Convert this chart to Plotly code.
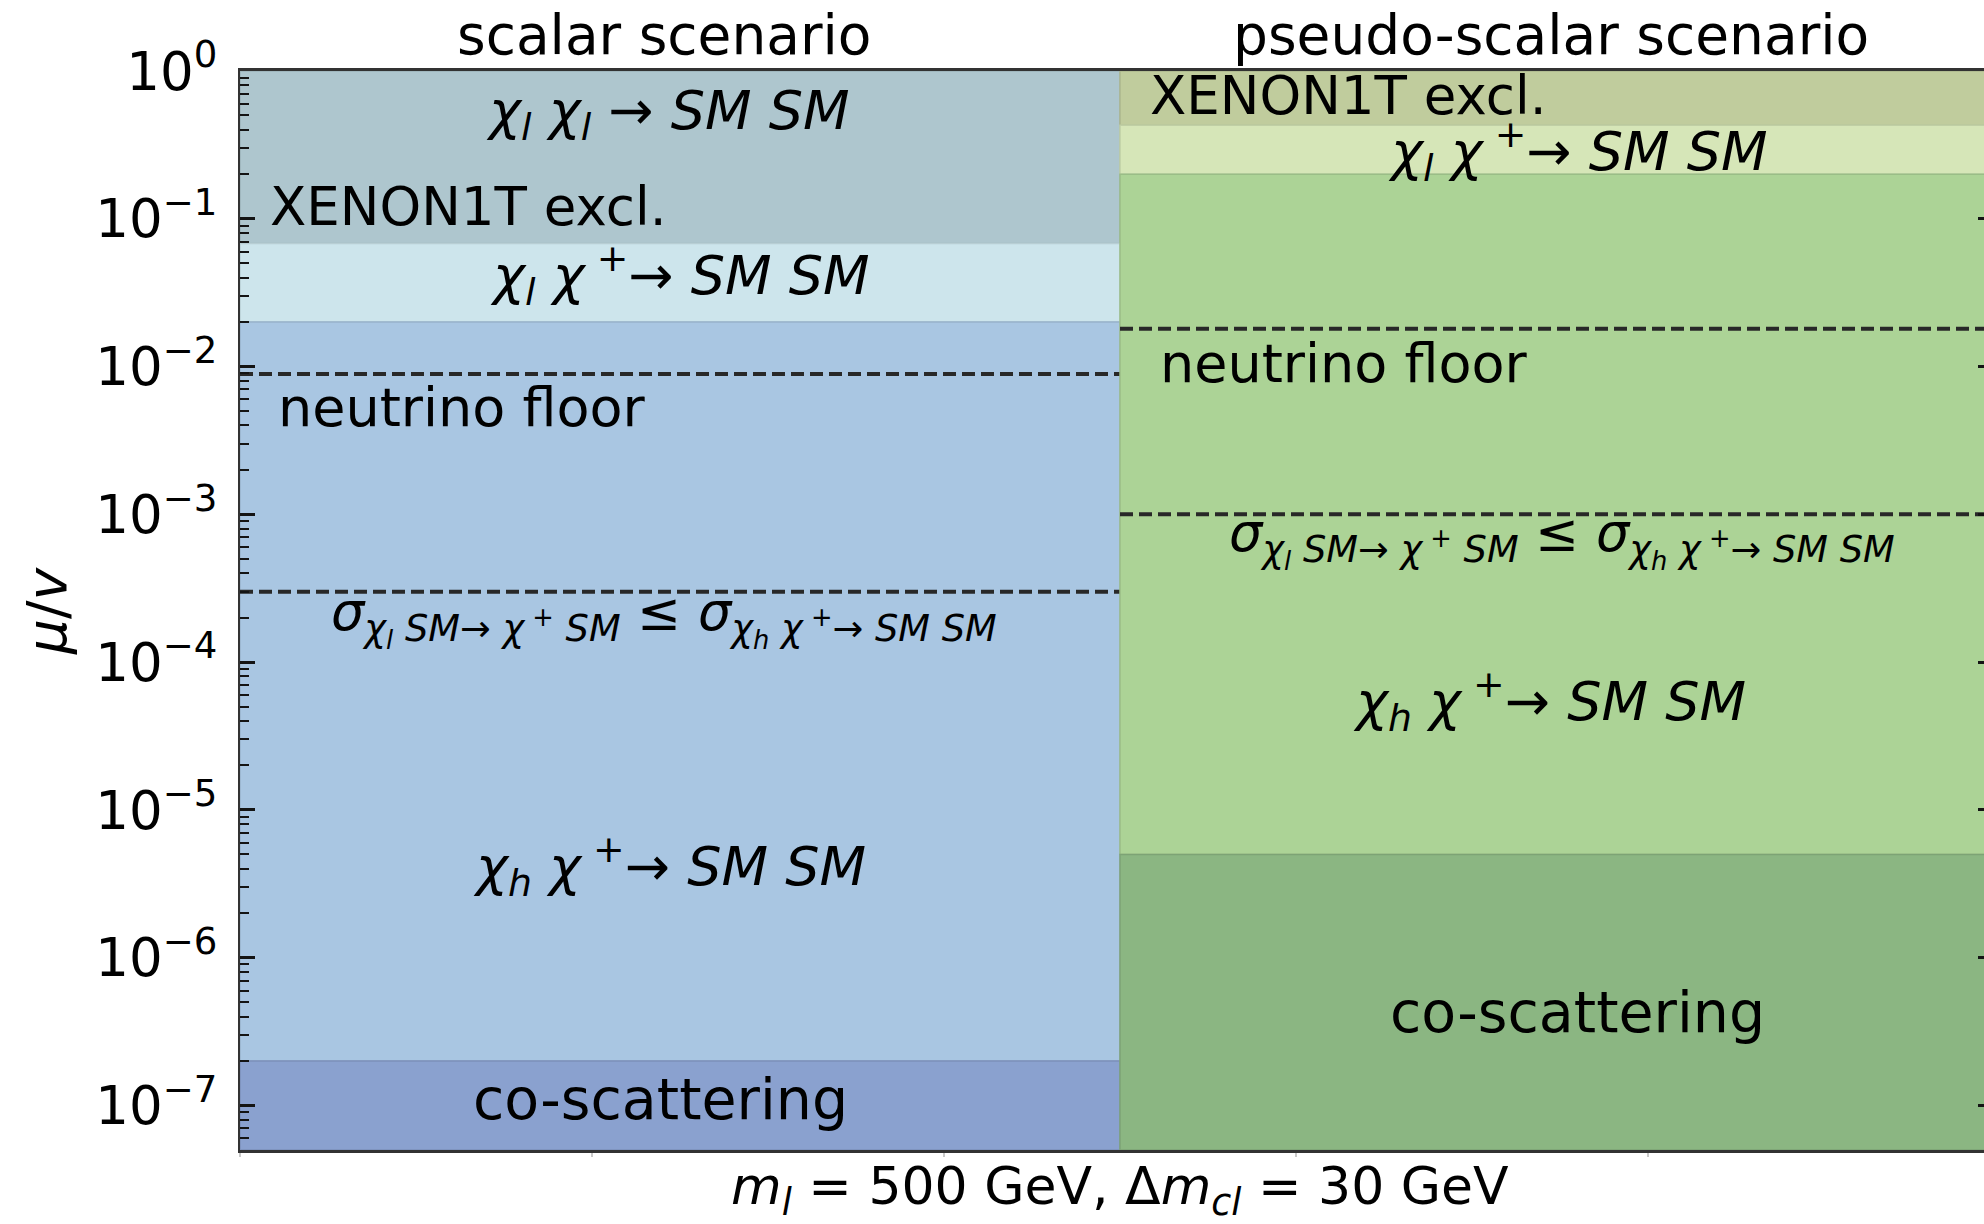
import numpy as np
import plotly.graph_objects as go

# ---------------- data ----------------
# horizontal bands (upper edge -> lower edge) in mu/v for each scenario
scalar_edges = [1.0, 0.068, 0.02, 2e-7, 5e-8]
scalar_colors = ["rgb(174,198,206)", "rgb(205,229,236)", "rgb(169,198,226)", "rgb(138,161,207)"]
pseudo_edges = [1.0, 0.43, 0.2, 5e-6, 5e-8]
pseudo_colors = ["rgb(192,204,157)", "rgb(214,230,184)", "rgb(172,211,150)", "rgb(139,182,130)"]

# dashed boundaries: neutrino floor and cross-section equality
scalar_neutrino_floor = 8.9e-3
scalar_sigma_line = 3.0e-4
pseudo_neutrino_floor = 1.8e-2
pseudo_sigma_line = 1.0e-3

# x extent of each scenario column
scalar_x = [0.0, 0.5]
pseudo_x = [0.5, 1.0]

y_min, y_max = 5e-8, 1.0
major_ticks = [1e0, 1e-1, 1e-2, 1e-3, 1e-4, 1e-5, 1e-6, 1e-7]
major_labels = ["10<sup>0</sup>", "10<sup>−1</sup>", "10<sup>−2</sup>", "10<sup>−3</sup>",
                "10<sup>−4</sup>", "10<sup>−5</sup>", "10<sup>−6</sup>", "10<sup>−7</sup>"]
x_ticks = [0.0, 0.2, 0.4, 0.6, 0.8, 1.0]

FONT = "DejaVu Sans"

chi_l = "<i>χ</i><sub><i>l</i></sub>"
chi_h = "<i>χ</i><sub><i>h</i></sub>"
chi_p = "<i>χ</i><sup> +</sup>"
sigma_txt = ("<i>σ</i><sub><i>χ</i><sub><i>l</i></sub> <i>SM</i>→ <i>χ</i><sup> +</sup> <i>SM</i></sub>"
             " ≤ <i>σ</i><sub><i>χ</i><sub><i>h</i></sub> <i>χ</i><sup> +</sup>→ <i>SM SM</i></sub>")


def darker(rgb, f=0.9):
    vals = [int(v) for v in rgb[4:-1].split(",")]
    return "rgb({},{},{})".format(*[int(v * f) for v in vals])


fig = go.Figure()


def add_bands(xs, edges, colors, yaxis):
    for hi, lo, col in zip(edges[:-1], edges[1:], colors):
        fig.add_trace(go.Scatter(
            x=[xs[0], xs[1], xs[1], xs[0], xs[0]],
            y=[lo, lo, hi, hi, lo],
            mode="lines", fill="toself", fillcolor=col,
            line=dict(color=darker(col), width=1.5),
            hoverinfo="skip", showlegend=False, yaxis=yaxis))


def add_dashed(xs, yv, yaxis):
    fig.add_trace(go.Scatter(
        x=xs, y=[yv, yv], mode="lines",
        line=dict(color="rgb(40,40,40)", width=4, dash="13px,6px"),
        hoverinfo="skip", showlegend=False, yaxis=yaxis))


add_bands(scalar_x, scalar_edges, scalar_colors, "y")
add_dashed(scalar_x, scalar_neutrino_floor, "y")
add_dashed(scalar_x, scalar_sigma_line, "y")

add_bands(pseudo_x, pseudo_edges, pseudo_colors, "y2")
add_dashed(pseudo_x, pseudo_neutrino_floor, "y2")
add_dashed(pseudo_x, pseudo_sigma_line, "y2")

# ---------------- labels inside the panels ----------------
# (text, x, log10 y, xanchor, font size)
labels = [
    (f"{chi_l} {chi_l} → <i>SM SM</i>", 0.243, -0.29, "center", 54),
    ("XENON1T excl.", 0.016, -0.916, "left", 53),
    (f"{chi_l} {chi_p}→ <i>SM SM</i>", 0.25, -1.38, "center", 54),
    ("neutrino floor", 0.0205, -2.276, "left", 54),
    (sigma_txt, 0.241, -3.70, "center", 52.5),
    (f"{chi_h} {chi_p}→ <i>SM SM</i>", 0.244, -5.38, "center", 54),
    ("co-scattering", 0.239, -6.953, "center", 57),
    ("XENON1T excl.", 0.516, -0.164, "left", 53),
    (f"{chi_l} {chi_p}→ <i>SM SM</i>", 0.76, -0.54, "center", 54),
    ("neutrino floor", 0.5216, -1.978, "left", 54),
    (sigma_txt, 0.751, -3.17, "center", 52.5),
    (f"{chi_h} {chi_p}→ <i>SM SM</i>", 0.744, -4.26, "center", 54),
    ("co-scattering", 0.76, -6.37, "center", 57),
]
for txt, xv, ly, anchor, size in labels:
    fig.add_annotation(x=xv, y=ly, xref="x", yref="y", text=txt, showarrow=False,
                       xanchor=anchor, yanchor="middle",
                       font=dict(family=FONT, size=size, color="black"))

# column titles
for txt, xv in [("scalar scenario", 0.241), ("pseudo-scalar scenario", 0.745)]:
    fig.add_annotation(x=xv, y=1.0335, xref="x", yref="paper", text=txt, showarrow=False,
                       xanchor="center", yanchor="middle",
                       font=dict(family=FONT, size=55, color="black"))

# axis labels
fig.add_annotation(x=0.5, y=-0.0375, xref="x", yref="paper",
                   text="<i>m</i><sub><i>l</i></sub> = 500 GeV, Δ<i>m</i><sub><i>cl</i></sub> = 30 GeV",
                   showarrow=False, xanchor="center", yanchor="middle",
                   font=dict(family=FONT, size=52, color="black"))
fig.add_annotation(x=-0.111, y=0.5, xref="paper", yref="paper",
                   text="<i>μ</i>/<i>v</i>", textangle=-90, showarrow=False,
                   xanchor="center", yanchor="middle",
                   font=dict(family=FONT, size=55, color="black"))

# ---------------- axes ----------------
W, H = 1984, 1224
left, top, bottom = 240, 71, 74
plot_w = W - left
x_hi = plot_w / 1760.0  # the right column runs just past the page edge

log_range = [np.log10(y_min), np.log10(y_max)]

fig.update_layout(
    width=W, height=H,
    margin=dict(l=left, r=0, t=top, b=bottom, pad=0),
    paper_bgcolor="white", plot_bgcolor="white",
    font=dict(family=FONT, color="black"),
    showlegend=False,
    xaxis=dict(range=[0, x_hi], showgrid=False, zeroline=False,
               tickvals=x_ticks, showticklabels=False,
               ticks="outside", ticklen=4, tickwidth=2, tickcolor="rgb(200,200,200)",
               showline=True, linecolor="rgb(50,50,50)", linewidth=2.5, mirror=True),
    yaxis=dict(type="log", range=log_range, showgrid=False, zeroline=False,
               tickvals=major_ticks, ticktext=major_labels,
               tickfont=dict(family=FONT, size=53, color="black"),
               ticks="inside", ticklen=15, tickwidth=3, tickcolor="rgb(20,20,20)",
               minor=dict(ticks="inside", ticklen=9, tickwidth=2, tickcolor="rgb(20,20,20)",
                          dtick="D1", showgrid=False),
               showline=True, linecolor="rgb(50,50,50)", linewidth=2,
               ticklabelstandoff=10),
    yaxis2=dict(type="log", range=log_range, overlaying="y", side="right",
                showgrid=False, zeroline=False, showline=False,
                tickvals=major_ticks, showticklabels=False,
                ticks="inside", ticklen=6, tickwidth=3, tickcolor="rgb(20,20,20)"),
)

fig.write_html("out.html")
